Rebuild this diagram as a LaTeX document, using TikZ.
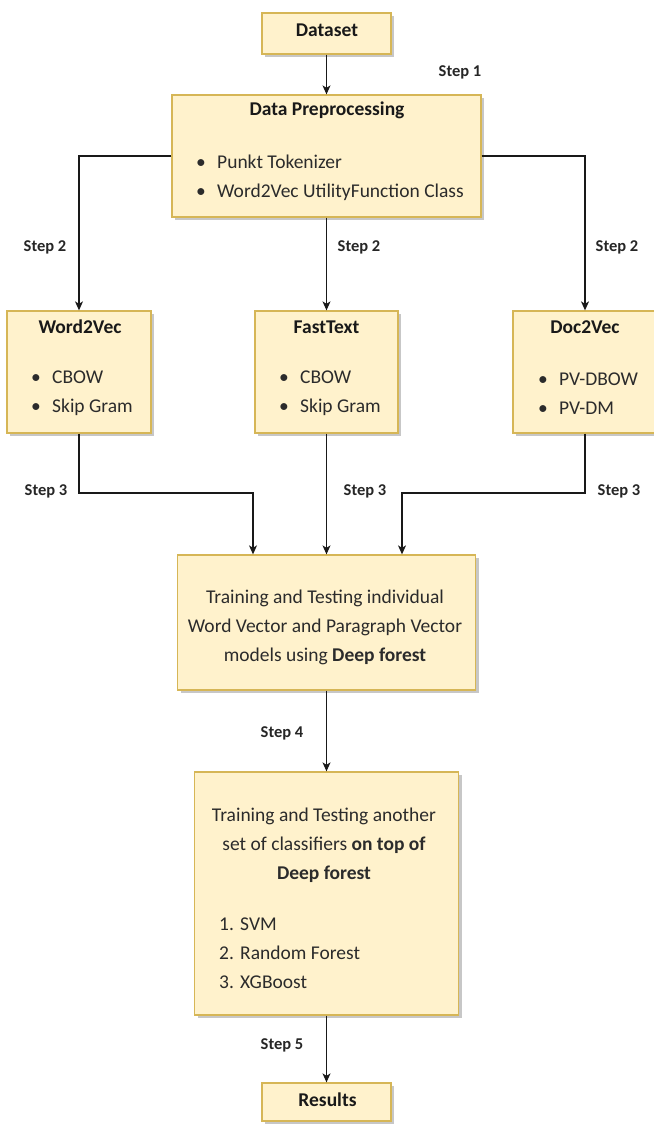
\documentclass[tikz,border=0pt]{standalone}
\usepackage{fontspec}
\setmainfont{Carlito}
\usetikzlibrary{arrows.meta,shadows}

\definecolor{boxfill}{HTML}{FFF2CC}
\definecolor{boxdraw}{HTML}{D6B656}
\definecolor{txtcol}{HTML}{2B2B2B}

\begin{document}
\begin{tikzpicture}[x=1pt,y=-1pt,
  box/.style={draw=boxdraw, fill=boxfill, line width=1.3pt, inner sep=0pt,
    drop shadow={shadow xshift=3pt, shadow yshift=-3pt, fill=black, opacity=0.22}},
  conn/.style={draw=black!90, line width=1.1pt, -{Stealth[length=9pt,width=8pt,inset=2.5pt]}},
  ttl/.style={inner sep=0pt, text=black!90, font=\fontsize{19.5}{29}\selectfont\bfseries},
  body/.style={inner sep=0pt, text=txtcol, font=\fontsize{19.5}{29}\selectfont},
  steplbl/.style={inner sep=0pt, text=black!85, font=\fontsize{16.5}{20}\selectfont\bfseries}
]
\useasboundingbox (0,0) rectangle (653,1126);

% boxes
\node[box, minimum width=129pt, minimum height=41pt] (ds) at (326.5,33.5) {};
\node[box, minimum width=309pt, minimum height=122pt] (dp) at (326.5,156) {};
\node[box, minimum width=144pt, minimum height=122pt] (w2v) at (79,372) {};
\node[box, minimum width=143pt, minimum height=122pt] (ft) at (326.5,372) {};
\node[box, minimum width=144pt, minimum height=122pt] (d2v) at (585,372) {};
\node[box, minimum width=298pt, minimum height=135pt] (tr) at (326.5,622.5) {};
\node[box, minimum width=264pt, minimum height=243pt] (b2) at (326.5,893.5) {};
\node[box, minimum width=129pt, minimum height=38pt] (res) at (326.5,1102) {};

% texts
\node[ttl] (tds) at (327,30) {Dataset};
\node[ttl] (tdp) at (327,110) {Data Preprocessing};
\node[body, align=left, anchor=west] (ldp) at (196,177.5)
  {\makebox[21pt][l]{\textbullet}Punkt Tokenizer\\\makebox[21pt][l]{\textbullet}Word2Vec UtilityFunction Class};

\node[ttl] (tw2v) at (80,327) {Word2Vec};
\node[body, align=left, anchor=west] (lw2v) at (31,393.5)
  {\makebox[21pt][l]{\textbullet}CBOW\\\makebox[21pt][l]{\textbullet}Skip Gram};

\node[ttl] (tft) at (326.5,327) {FastText};
\node[body, align=left, anchor=west] (lft) at (279,393.5)
  {\makebox[21pt][l]{\textbullet}CBOW\\\makebox[21pt][l]{\textbullet}Skip Gram};

\node[ttl] (td2v) at (585,327) {Doc2Vec};
\node[body, align=left, anchor=west] (ld2v) at (538,393.5)
  {\makebox[21pt][l]{\textbullet}PV-DBOW\\\makebox[21pt][l]{\textbullet}PV-DM};

\node[body, align=center] (ttr) at (325,627.5)
  {Training and Testing individual\\Word Vector and Paragraph Vector\\models using \textbf{Deep forest}};

\node[body, align=center] (tb2) at (324,845)
  {Training and Testing another\\set of classifiers \textbf{on top of}\\\textbf{Deep forest}};
\node[body, align=left, anchor=west] (lb2) at (219,953.5)
  {\makebox[21pt][l]{1.}SVM\\\makebox[21pt][l]{2.}Random Forest\\\makebox[21pt][l]{3.}XGBoost};

\node[ttl] (tres) at (327.5,1100) {Results};

% step labels
\node[steplbl] (s1) at (460,72) {Step 1};
\node[steplbl] (s2a) at (45,247) {Step 2};
\node[steplbl] (s2b) at (359,247) {Step 2};
\node[steplbl] (s2c) at (617,247) {Step 2};
\node[steplbl] (s3a) at (46,491) {Step 3};
\node[steplbl] (s3b) at (365,491) {Step 3};
\node[steplbl] (s3c) at (619,491) {Step 3};
\node[steplbl] (s4) at (282,733) {Step 4};
\node[steplbl] (s5) at (282,1045) {Step 5};

% connectors
\coordinate (j1) at (253,493);
\coordinate (j2) at (402,493);
\draw[conn] (ds.south) -- (dp.north);
\draw[conn] (dp.west) -| (w2v.north);
\draw[conn] (dp.south) -- (ft.north);
\draw[conn] (dp.east) -| (d2v.north);
\draw[conn] (w2v.south) |- (j1) -- (j1 |- tr.north);
\draw[conn] (ft.south) -- (tr.north);
\draw[conn] (d2v.south) |- (j2) -- (j2 |- tr.north);
\draw[conn] (tr.south) -- (b2.north);
\draw[conn] (b2.south) -- (res.north);
\end{tikzpicture}
\end{document}
